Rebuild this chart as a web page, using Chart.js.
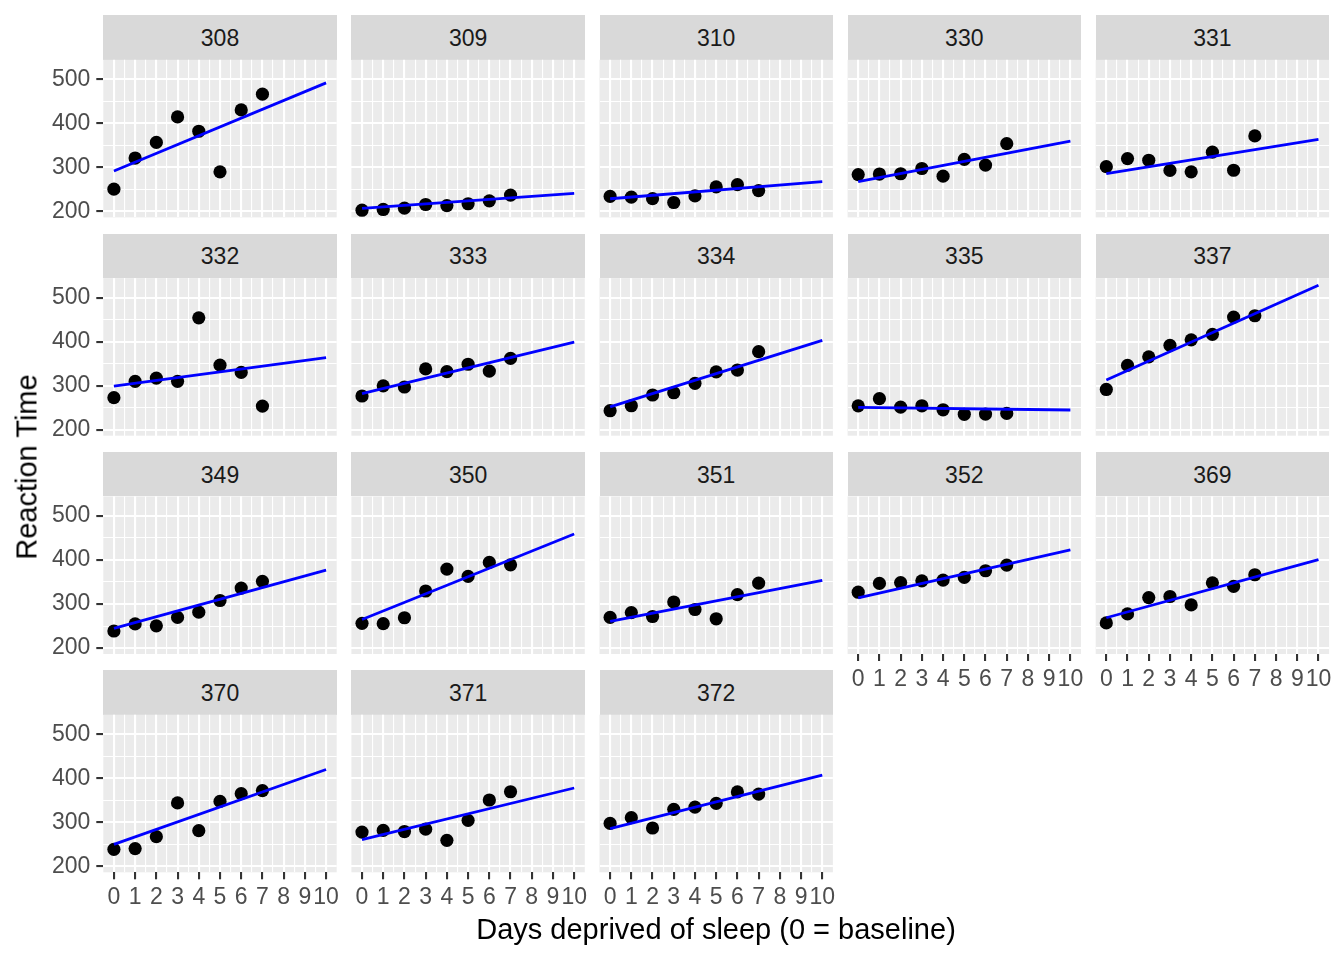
<!DOCTYPE html>
<html>
<head>
<meta charset="utf-8">
<script src="https://cdn.jsdelivr.net/npm/chart.js@4.4.0/dist/chart.umd.min.js"></script>
<style>
html,body{margin:0;padding:0;background:#ffffff;}
#wrap{position:relative;width:1344px;height:960px;overflow:hidden;font-family:'Liberation Sans',Arial,Helvetica,sans-serif;}
.strip{position:absolute;background:#D9D9D9;color:#1A1A1A;font-size:23px;display:flex;align-items:center;justify-content:center;line-height:1;box-sizing:border-box;padding-top:2px;}
canvas{position:absolute;}
.title{position:absolute;color:#000000;font-size:29px;white-space:nowrap;line-height:1;}
</style>
</head>
<body>
<div id="wrap"></div>
<script>
// ---------------- data ----------------
const subjects = ['308','309','310','330','331','332','333','334','335','337','349','350','351','352','369','370','371','372'];
const days = [0, 1, 2, 3, 4, 5, 6, 7];

const rt308 = [250.8, 321.4, 356.9, 414.7, 382.2, 290.1, 430.6, 466.4];
const rt309 = [203.0, 204.7, 207.7, 216.0, 213.6, 217.7, 224.3, 237.3];
const rt310 = [234.3, 232.8, 229.3, 220.5, 235.4, 255.8, 261.0, 247.5];
const rt330 = [283.9, 285.1, 285.8, 297.6, 280.2, 318.3, 305.4, 354.0];
const rt331 = [301.8, 320.1, 316.3, 293.3, 290.1, 334.8, 293.7, 371.6];
const rt332 = [273.0, 309.8, 317.5, 310.0, 454.2, 346.8, 330.3, 253.9];
const rt333 = [276.8, 299.8, 297.2, 338.2, 332.0, 348.8, 333.4, 362.0];
const rt334 = [243.4, 254.7, 279.0, 284.2, 305.5, 331.5, 335.7, 377.3];
const rt335 = [254.5, 270.8, 251.5, 254.6, 245.5, 235.3, 235.8, 237.3];
const rt337 = [291.6, 346.1, 365.7, 391.8, 404.3, 416.7, 455.9, 458.9];
const rt349 = [238.9, 254.9, 250.7, 269.8, 281.6, 308.1, 336.3, 351.6];
const rt350 = [256.2, 255.5, 268.9, 329.7, 379.4, 362.9, 394.5, 389.1];
const rt351 = [269.9, 280.6, 271.8, 304.6, 287.7, 266.6, 321.5, 347.6];
const rt352 = [326.9, 346.9, 348.7, 352.8, 354.4, 360.4, 375.6, 388.5];
const rt369 = [257.2, 277.7, 314.8, 317.2, 298.1, 348.1, 340.3, 366.5];
const rt370 = [238.9, 240.5, 267.5, 344.2, 281.1, 347.6, 365.2, 372.2];
const rt371 = [277.9, 281.8, 279.2, 284.5, 259.3, 304.6, 350.8, 369.5];
const rt372 = [297.6, 310.6, 287.2, 329.6, 334.5, 343.2, 369.1, 364.1];
const reactionBySubject = [rt308, rt309, rt310, rt330, rt331, rt332, rt333, rt334, rt335,
                           rt337, rt349, rt350, rt351, rt352, rt369, rt370, rt371, rt372];

// fitted line per subject: value at day 0 and at day 10
const fitDays = [0, 10];
const fitAtDay0  = [292, 207, 229, 268, 286, 299, 282, 252, 251, 313, 245, 265, 261, 314, 269, 250, 261, 286];
const fitAtDay10 = [492, 241, 268, 360, 364, 364, 399, 403, 245, 528, 377, 459, 354, 423, 401, 420, 378, 407];

// tick / grid values
const xMajorTicks = [0, 1, 2, 3, 4, 5, 6, 7, 8, 9, 10];
const xMinorTicks = [0.5, 1.5, 2.5, 3.5, 4.5, 5.5, 6.5, 7.5, 8.5, 9.5];
const yMajorTicks = [200, 300, 400, 500];
const yMinorTicks = [250, 350, 450];
const xRange = [-0.5, 10.5];
const yRange = [186.7, 544.3];

const xTitle = 'Days deprived of sleep (0 = baseline)';
const yTitle = 'Reaction Time';

// ---------------- layout ----------------
const FONT = "'Liberation Sans', Arial, Helvetica, sans-serif";
const P_LEFT0 = 103.3, COL_PITCH = 248.1, PW = 233.4;
const P_TOP0 = 59.8, ROW_PITCH = 218.3, PH = 157.6, STRIP_H = 44.6;
const M = 30;

const wrap = document.getElementById('wrap');

const panelBg = {
  id: 'panelBg',
  beforeDraw(chart) {
    const a = chart.chartArea, ctx = chart.ctx;
    ctx.save();
    ctx.fillStyle = '#EBEBEB';
    ctx.fillRect(a.left, a.top, a.right - a.left, a.bottom - a.top);
    ctx.restore();
  }
};

function isIn(arr, v) { return arr.some(a => Math.abs(a - v) < 1e-9); }

subjects.forEach((subj, i) => {
  const r = Math.floor(i / 5), c = i % 5;
  const pl = P_LEFT0 + c * COL_PITCH;
  const pt = P_TOP0 + r * ROW_PITCH;
  const hasY = c === 0;
  const hasX = (r === 3) || (r === 2 && c >= 3);
  const LA = hasY ? 62 : 0;
  const BA = hasX ? 40 : 0;

  // strip
  const s = document.createElement('div');
  s.className = 'strip';
  s.style.left = pl + 'px';
  s.style.top = (pt - STRIP_H) + 'px';
  s.style.width = PW + 'px';
  s.style.height = STRIP_H + 'px';
  s.textContent = subj;
  wrap.appendChild(s);

  // canvas
  const cl = Math.floor(pl - LA - M);
  const ct = Math.floor(pt - M);
  const cr = Math.ceil(pl + PW + M);
  const cb = Math.ceil(pt + PH + BA + M);
  const w = cr - cl, h = cb - ct;
  const cv = document.createElement('canvas');
  cv.width = w; cv.height = h;
  cv.style.left = cl + 'px'; cv.style.top = ct + 'px';
  cv.style.width = w + 'px'; cv.style.height = h + 'px';
  wrap.appendChild(cv);

  const pad = {
    left: pl - LA - cl,
    top: pt - ct,
    right: cr - (pl + PW),
    bottom: cb - (pt + PH + BA)
  };

  const pts = days.map((d, k) => ({ x: d, y: reactionBySubject[i][k] }));
  const line = [{ x: fitDays[0], y: fitAtDay0[i] }, { x: fitDays[1], y: fitAtDay10[i] }];

  new Chart(cv, {
    data: {
      datasets: [
        { type: 'line', data: line, borderColor: '#0000FF', borderWidth: 2.8,
          pointRadius: 0, fill: false, tension: 0 },
        { type: 'scatter', data: pts, backgroundColor: '#000000', borderWidth: 0,
          pointRadius: 6.6, pointHoverRadius: 6.6 }
      ]
    },
    options: {
      responsive: false,
      animation: false,
      devicePixelRatio: 1,
      layout: { padding: pad },
      plugins: { legend: { display: false }, tooltip: { enabled: false }, title: { display: false } },
      events: [],
      scales: {
        x: {
          type: 'linear', min: xRange[0], max: xRange[1],
          afterBuildTicks: sc => { sc.ticks = xMajorTicks.concat(xMinorTicks).sort((a, b) => a - b).map(v => ({ value: v })); },
          afterFit: sc => { sc.height = BA; },
          ticks: {
            display: hasX, autoSkip: false, maxRotation: 0, minRotation: 0, padding: 5,
            color: '#4D4D4D', font: { family: FONT, size: 23 },
            callback: v => isIn(xMajorTicks, v) ? String(v) : ''
          },
          grid: {
            color: '#FFFFFF',
            lineWidth: ctx => (ctx.tick && isIn(xMajorTicks, ctx.tick.value)) ? 2.1 : 1.1,
            drawTicks: hasX, tickLength: 7, tickWidth: 2.1,
            tickColor: ctx => (ctx.tick && isIn(xMajorTicks, ctx.tick.value)) ? '#333333' : 'rgba(0,0,0,0)'
          },
          border: { display: false }
        },
        y: {
          type: 'linear', min: yRange[0], max: yRange[1],
          afterBuildTicks: sc => { sc.ticks = yMajorTicks.concat(yMinorTicks).sort((a, b) => a - b).map(v => ({ value: v })); },
          afterFit: sc => { sc.width = LA; },
          ticks: {
            display: hasY, autoSkip: false, padding: 6,
            color: '#4D4D4D', font: { family: FONT, size: 23 },
            callback: v => isIn(yMajorTicks, v) ? String(v) : ''
          },
          grid: {
            color: '#FFFFFF',
            lineWidth: ctx => (ctx.tick && isIn(yMajorTicks, ctx.tick.value)) ? 2.1 : 1.1,
            drawTicks: hasY, tickLength: 7, tickWidth: 2.1,
            tickColor: ctx => (ctx.tick && isIn(yMajorTicks, ctx.tick.value)) ? '#333333' : 'rgba(0,0,0,0)'
          },
          border: { display: false }
        }
      }
    },
    plugins: [panelBg]
  });
});

// axis titles
const xt = document.createElement('div');
xt.className = 'title';
xt.textContent = xTitle;
xt.style.left = '716px'; xt.style.top = '929px';
xt.style.transform = 'translate(-50%,-50%)';
wrap.appendChild(xt);

const yt = document.createElement('div');
yt.className = 'title';
yt.textContent = yTitle;
yt.style.left = '27px'; yt.style.top = '466.5px';
yt.style.transform = 'translate(-50%,-50%) rotate(-90deg)';
wrap.appendChild(yt);
</script>
</body>
</html>
